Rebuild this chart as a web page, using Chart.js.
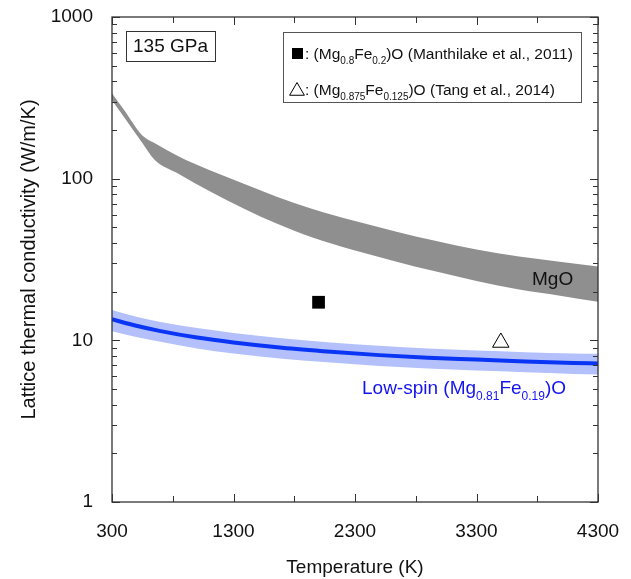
<!DOCTYPE html>
<html>
<head>
<meta charset="UTF-8">
<title>Lattice thermal conductivity at 135 GPa</title>
<script src="https://cdn.jsdelivr.net/npm/chart.js"></script>
<style>
    body { margin: 0; background: #fff; }
    #chart { display: block; }
</style>
</head>
<body>
<canvas id="chart" width="631" height="579"></canvas>
<script>
    // temperature axis
    const xTicks = [300, 1300, 2300, 3300, 4300];
    const xMinor = [800, 1800, 2800, 3800];
    const yTicks = [1, 10, 100, 1000];

    // MgO band (grey)
    const mgoT = [300, 400, 550, 650, 850, 1100, 1400, 1650, 1950, 2300, 2650, 2950, 3300, 3650, 4000, 4300];
    const mgoUpper = [338, 266, 185, 166, 137, 113, 91.9, 77.5, 64.9, 54.7, 46.8, 41.4, 36.4, 33.0, 30.5, 28.6];
    const mgoLower = [306, 240, 166, 131, 107, 83.8, 64.4, 52.9, 43.2, 35.9, 30.5, 26.8, 23.3, 20.6, 18.8, 17.3];

    // low-spin (Mg0.81Fe0.19)O
    const lsT = [300, 500, 700, 1000, 1300, 1700, 2100, 2500, 2900, 3300, 3700, 4100, 4300];
    const lsMid = [13.5, 12.3, 11.4, 10.4, 9.7, 9.0, 8.5, 8.1, 7.8, 7.6, 7.4, 7.25, 7.2];
    const lsUpper = [15.4, 14.0, 13.0, 11.9, 11.1, 10.3, 9.7, 9.25, 8.9, 8.65, 8.45, 8.3, 8.25];
    const lsLower = [11.4, 10.5, 9.8, 8.9, 8.3, 7.7, 7.3, 6.95, 6.7, 6.5, 6.35, 6.2, 6.15];

    // experiments
    const manthilakeT = [2000];
    const manthilakeK = [17.2];
    const tangT = [3500];
    const tangK = [9.7];

    const FONT = "'Liberation Sans', Arial, sans-serif";

    function pts(xs, ys) {
        return xs.map((x, i) => ({ x: x, y: ys[i] }));
    }

    // text with subscripts: parts = [[text, isSub], ...]
    function drawRich(ctx, x, y, parts, size, color) {
        ctx.save();
        ctx.fillStyle = color;
        ctx.textBaseline = 'alphabetic';
        ctx.textAlign = 'left';
        parts.forEach(p => {
            const sub = p[1];
            ctx.font = (sub ? Math.round(size * 0.64) : size) + 'px ' + FONT;
            ctx.fillText(p[0], x, sub ? y + size * 0.3 : y);
            x += ctx.measureText(p[0]).width;
        });
        ctx.restore();
    }

    const framePlugin = {
        id: 'frame',
        afterDraw(chart) {
            const ctx = chart.ctx;
            const a = chart.chartArea;
            const xs = chart.scales.x, ys = chart.scales.y;
            ctx.save();
            ctx.strokeStyle = '#333';
            ctx.lineWidth = 1.3;
            ctx.strokeRect(a.left, a.top, a.right - a.left, a.bottom - a.top);

            ctx.lineWidth = 1;
            ctx.beginPath();
            const xt = (v, len) => {
                const px = Math.round(xs.getPixelForValue(v)) + 0.5;
                ctx.moveTo(px, a.bottom); ctx.lineTo(px, a.bottom - len);
                ctx.moveTo(px, a.top); ctx.lineTo(px, a.top + len);
            };
            xTicks.forEach(v => xt(v, 8));
            xMinor.forEach(v => xt(v, 6));
            const yt = (v, len) => {
                const py = Math.round(ys.getPixelForValue(v)) + 0.5;
                ctx.moveTo(a.left, py); ctx.lineTo(a.left + len, py);
                ctx.moveTo(a.right, py); ctx.lineTo(a.right - len, py);
            };
            [1, 10, 100].forEach(d => {
                yt(d, 8);
                for (let k = 2; k <= 9; k++) yt(d * k, 5);
            });
            yt(1000, 8);
            ctx.stroke();

            // pressure box
            ctx.strokeStyle = '#333';
            ctx.strokeRect(126.5, 31.5, 89, 30);
            ctx.fillStyle = '#111';
            ctx.font = '19px ' + FONT;
            ctx.textAlign = 'center';
            ctx.textBaseline = 'middle';
            ctx.fillText('135 GPa', 170.5, 47);

            // legend box
            ctx.strokeStyle = '#555';
            ctx.strokeRect(283.5, 32.5, 298, 70);
            ctx.fillStyle = '#000';
            ctx.fillRect(292, 48, 11, 11);
            ctx.fillStyle = '#fff';
            ctx.strokeStyle = '#000';
            Chart.helpers.drawPoint(ctx, { pointStyle: 'triangle', radius: 8.5, borderWidth: 1 }, 297, 91);
            drawRich(ctx, 305, 59, [[': (Mg', 0], ['0.8', 1], ['Fe', 0], ['0.2', 1], [')O (Manthilake et al., 2011)', 0]], 15.5, '#111');
            drawRich(ctx, 305, 95, [[': (Mg', 0], ['0.875', 1], ['Fe', 0], ['0.125', 1], [')O (Tang et al., 2014)', 0]], 15.5, '#111');

            // curve labels
            drawRich(ctx, 532, 285, [['MgO', 0]], 19, '#111');
            drawRich(ctx, 362, 394, [['Low-spin (Mg', 0], ['0.81', 1], ['Fe', 0], ['0.19', 1], [')O', 0]], 19, '#1414f0');
            ctx.restore();
        }
    };

    const ctx = document.getElementById('chart').getContext('2d');
    new Chart(ctx, {
        type: 'line',
        data: {
            // first dataset is drawn on top
            datasets: [
                { type: 'scatter', data: pts(tangT, tangK), pointStyle: 'triangle', pointRadius: 9.5, backgroundColor: '#fff', borderColor: '#000', borderWidth: 1 },
                { type: 'scatter', data: pts(manthilakeT, manthilakeK), pointStyle: 'rect', pointRadius: 9, backgroundColor: '#000', borderColor: '#000', borderWidth: 0 },
                { data: pts(lsT, lsMid), borderColor: '#0a35f5', borderWidth: 4, pointRadius: 0, fill: false, cubicInterpolationMode: 'monotone' },
                { data: pts(lsT, lsLower), borderWidth: 0, pointRadius: 0, fill: false, cubicInterpolationMode: 'monotone' },
                { data: pts(lsT, lsUpper), borderWidth: 0, pointRadius: 0, fill: '-1', backgroundColor: '#b3c0fb', cubicInterpolationMode: 'monotone' },
                { data: pts(mgoT, mgoLower), borderWidth: 0, pointRadius: 0, fill: false, cubicInterpolationMode: 'monotone' },
                { data: pts(mgoT, mgoUpper), borderWidth: 0, pointRadius: 0, fill: '-1', backgroundColor: '#8f8f8f', cubicInterpolationMode: 'monotone' }
            ]
        },
        options: {
            responsive: false,
            animation: false,
            events: [],
            layout: { padding: { left: 0, top: 17, right: 33, bottom: 0 } },
            plugins: { legend: { display: false }, tooltip: { enabled: false } },
            scales: {
                x: {
                    type: 'linear', min: 300, max: 4300,
                    afterBuildTicks: s => { s.ticks = xTicks.map(v => ({ value: v })); },
                    afterFit: s => { s.height = 77; s.paddingLeft = 0; s.paddingRight = 0; },
                    grid: { display: false, drawTicks: false },
                    border: { display: false },
                    ticks: { padding: 18, color: '#111', font: { size: 19, family: FONT }, maxRotation: 0, callback: v => String(v) },
                    title: { display: true, text: 'Temperature (K)', color: '#111', font: { size: 19, family: FONT }, padding: { top: 5, bottom: 0 } }
                },
                y: {
                    type: 'logarithmic', min: 1, max: 1000,
                    afterBuildTicks: s => { s.ticks = yTicks.map(v => ({ value: v })); },
                    afterFit: s => { s.width = 112; s.paddingTop = 0; s.paddingBottom = 0; },
                    grid: { display: false, drawTicks: false },
                    border: { display: false },
                    ticks: { padding: 19, color: '#111', font: { size: 19, family: FONT }, callback: v => String(v) },
                    title: { display: true, text: 'Lattice thermal conductivity (W/m/K)', color: '#111', font: { size: 20, family: FONT }, padding: { top: 17, bottom: 0 } }
                }
            }
        },
        plugins: [framePlugin]
    });
</script>
</body>
</html>
